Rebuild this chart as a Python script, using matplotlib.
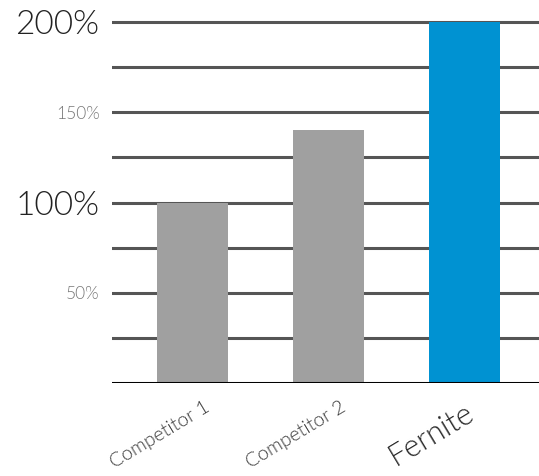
import numpy as np
import matplotlib
matplotlib.use("Agg")
import matplotlib.pyplot as plt
from matplotlib.transforms import ScaledTranslation

plt.rcParams['font.family'] = ['Lato', 'DejaVu Sans']

# data
categories = ['Competitor 1', 'Competitor 2', 'Fernite']
values = [100, 140, 200]
bar_colors = ['#a0a0a0', '#a0a0a0', '#0092d2']
grid_vals = np.arange(25, 201, 25)
ytick_vals = [50, 100, 150, 200]
ytick_labels = ['50%', '100%', '150%', '200%']

fig = plt.figure(figsize=(5.39, 4.76), dpi=100)
ax = fig.add_axes([112/539, (476-383)/476, 1 - 112/539, (383-13)/476])

x = np.arange(len(categories))
ax.bar(x, values, width=0.52, color=bar_colors, zorder=3)

# horizontal lines behind bars
for g in grid_vals:
    ax.axhline(g, color='#555555', lw=2.2, zorder=1)
ax.axhline(0, color='black', lw=2.2, zorder=4)

ax.set_xlim(-0.59, 2.55)
ax.set_ylim(0, 205)

for s in ax.spines.values():
    s.set_visible(False)

ax.set_yticks(ytick_vals)
ax.set_yticklabels(ytick_labels)
ax.tick_params(axis='y', length=0, pad=9)
for lab in ax.get_yticklabels():
    t = lab.get_text()
    if t in ('100%', '200%'):
        lab.set_fontsize(24)
        lab.set_color('#222222')
    else:
        lab.set_fontsize(12.5)
        lab.set_color('#777777')
    lab.set_fontweight(300)

ax.set_xticks(x)
ax.set_xticklabels(categories)
ax.tick_params(axis='x', length=0, pad=11)
offsets = [12, 12, 0]
for lab, off in zip(ax.get_xticklabels(), offsets):
    if lab.get_text() == 'Fernite':
        lab.set_fontsize(22)
        lab.set_color('#2a2a2a')
    else:
        lab.set_fontsize(14)
        lab.set_color('#3a3a3a')
    lab.set_fontweight(300)
    lab.set_rotation(31)
    lab.set_ha('right')
    lab.set_va('top')
    lab.set_rotation_mode('anchor')
    lab.set_transform(lab.get_transform() + ScaledTranslation(off/100, 0, fig.dpi_scale_trans))

fig.savefig('out.png', dpi=100)
